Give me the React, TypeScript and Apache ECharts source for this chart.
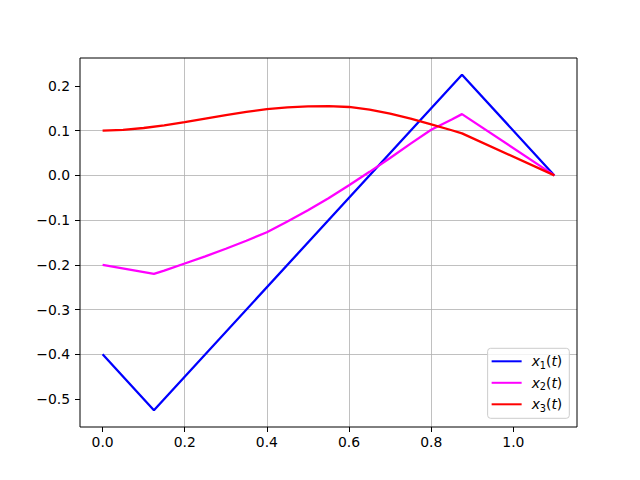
import React, { useEffect, useRef } from "react";
import * as echarts from "echarts";

const t1 = [0, 0.125, 0.875, 1.1];
const x1 = [-0.4, -0.525, 0.225, 0];

const t2 = [0, 0.125, 0.15, 0.2, 0.25, 0.3, 0.35, 0.4, 0.45, 0.5, 0.55, 0.6, 0.65, 0.7, 0.75, 0.8, 0.85, 0.875, 1.1];
const x2 = [-0.2, -0.22, -0.213, -0.197, -0.181, -0.164, -0.146, -0.127, -0.103, -0.078, -0.051, -0.022, 0.008, 0.039, 0.071, 0.102, 0.125, 0.137, 0];

const t3 = [0, 0.05, 0.1, 0.15, 0.2, 0.25, 0.3, 0.35, 0.4, 0.45, 0.5, 0.55, 0.6, 0.65, 0.7, 0.75, 0.8, 0.85, 0.875, 1.1];
const x3 = [0.1, 0.102, 0.106, 0.112, 0.119, 0.127, 0.135, 0.142, 0.148, 0.152, 0.1545, 0.1548, 0.153, 0.147, 0.138, 0.127, 0.114, 0.101, 0.094, 0];

const xTicks = [0, 0.2, 0.4, 0.6, 0.8, 1.0];
const yTicks = [-0.5, -0.4, -0.3, -0.2, -0.1, 0, 0.1, 0.2];

const seriesNames = ["x1(t)", "x2(t)", "x3(t)"];
const subscripts = ["1", "2", "3"];
const colors = ["#0000ff", "#ff00ff", "#ff0000"];

const xMin = -0.055;
const xMax = 1.155;
const yMin = -0.5625;
const yMax = 0.2625;

const pair = (t: number[], v: number[]) => t.map((tt, i) => [tt, v[i]]);

const fmt = (v: number) => {
  const s = (Math.abs(v) < 1e-9 ? 0 : v).toFixed(1);
  return s.replace("-", "\u2212");
};

export default function App() {
  const ref = useRef<HTMLDivElement>(null);
  useEffect(() => {
    if (!ref.current) return;
    const chart = echarts.init(ref.current, null, { renderer: "svg" });
    const font = "DejaVu Sans";
    const datasets = [pair(t1, x1), pair(t2, x2), pair(t3, x3)];
    chart.setOption({
      animation: false,
      backgroundColor: "#ffffff",
      textStyle: { fontFamily: font },
      grid: {
        left: 80,
        right: 63,
        top: 58,
        bottom: 53,
        show: true,
        borderColor: "#000000",
        borderWidth: 1,
        backgroundColor: "transparent",
        containLabel: false,
        z: 10,
      },
      xAxis: {
        type: "value",
        position: "bottom",
        min: xMin,
        max: xMax,
        splitNumber: 5,
        axisLine: { show: false, onZero: false },
        axisTick: {
          show: true,
          inside: false,
          length: 5,
          customValues: xTicks,
          lineStyle: { color: "#000", width: 1 },
        },
        axisLabel: {
          color: "#000",
          fontSize: 13.9,
          fontFamily: font,
          margin: 8,
          customValues: xTicks,
          formatter: (v: number) => fmt(v),
        },
        splitLine: {
          show: true,
          showMinLine: false,
          showMaxLine: false,
          lineStyle: { color: "#b0b0b0", width: 0.8 },
        },
      },
      yAxis: {
        type: "value",
        position: "left",
        min: yMin,
        max: yMax,
        splitNumber: 8,
        axisLine: { show: false, onZero: false },
        axisTick: {
          show: true,
          inside: false,
          length: 5,
          customValues: yTicks,
          lineStyle: { color: "#000", width: 1 },
        },
        axisLabel: {
          color: "#000",
          fontSize: 13.9,
          fontFamily: font,
          margin: 10,
          customValues: yTicks,
          formatter: (v: number) => fmt(v),
        },
        splitLine: {
          show: true,
          showMinLine: false,
          showMaxLine: false,
          lineStyle: { color: "#b0b0b0", width: 0.8 },
        },
      },
      legend: {
        orient: "vertical",
        right: 70.7,
        bottom: 61.7,
        icon: "rect",
        itemWidth: 30,
        itemHeight: 2,
        itemGap: 5.5,
        padding: [6, 7, 5, 4],
        backgroundColor: "rgba(255,255,255,0.8)",
        borderColor: "#cccccc",
        borderWidth: 1,
        borderRadius: 3,
        z: 20,
        data: seriesNames,
        formatter: (name: string) => {
          const i = seriesNames.indexOf(name);
          return `{a|x}{s|${subscripts[i]}}{p|(}{i|t}{p|)}`;
        },
        textStyle: {
          color: "#000",
          fontFamily: font,
          fontSize: 13.9,
          rich: {
            a: { fontStyle: "italic", fontSize: 13.9, fontFamily: font, color: "#000", lineHeight: 18, padding: [0, 0, 0, 5] },
            i: { fontStyle: "italic", fontSize: 13.9, fontFamily: font, color: "#000", lineHeight: 18 },
            p: { fontSize: 13.9, fontFamily: font, color: "#000", lineHeight: 18 },
            s: { fontSize: 9.7, fontFamily: font, color: "#000", lineHeight: 18, verticalAlign: "bottom" },
          },
        },
      },
      series: datasets.map((d, i) => ({
        name: seriesNames[i],
        type: "line",
        data: d,
        showSymbol: false,
        symbol: "none",
        smooth: false,
        lineStyle: { color: colors[i], width: 2.3 },
        itemStyle: { color: colors[i] },
        z: 2 + i,
      })),
    });
    return () => chart.dispose();
  }, []);
  return (
    <div
      ref={ref}
      style={{ position: "fixed", left: 0, top: 0, width: 640, height: 480 }}
    />
  );
}
